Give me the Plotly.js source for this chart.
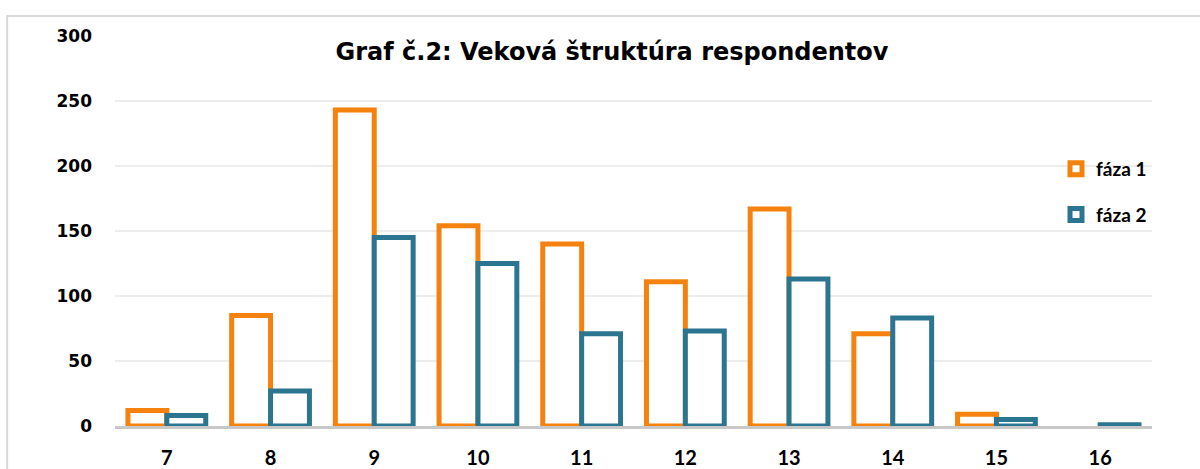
<!DOCTYPE html>
<html><head><meta charset="utf-8">
<script src="https://cdn.plot.ly/plotly-3.0.1.min.js"></script>
<style>html,body{margin:0;padding:0;background:#fff}#chart{width:1200px;height:469px}</style>
</head><body><div id="chart"></div>
<script>
const categories = ['7','8','9','10','11','12','13','14','15','16'];
const faza1 = [12, 85, 243, 154, 140, 111, 167, 71, 9, null];
const faza2 = [8, 27, 145, 125, 71, 73, 113, 83, 5, 1];
const seriesNames = ['fáza 1', 'fáza 2'];
const yTicks = [0, 50, 100, 150, 200, 250, 300];

const orange = '#F5820E';
const teal = '#2C7590';

const traces = [
  {type:'bar', x:categories, y:faza1, name:seriesNames[0], legendgroup:'a',
   marker:{color:'#ffffff', line:{color:orange, width:5}}},
  {type:'bar', x:categories, y:faza2, name:seriesNames[1], legendgroup:'b',
   marker:{color:'#ffffff', line:{color:teal, width:5}}}
];

const layout = {
  width:1200, height:469,
  margin:{l:115, r:48, t:36, b:43},
  paper_bgcolor:'#ffffff', plot_bgcolor:'#ffffff',
  barmode:'group', bargap:0.25, bargroupgap:0,
  title:{text:'Graf č.2: Veková štruktúra respondentov',
    font:{family:'"DejaVu Sans", sans-serif', size:24, color:'#000', weight:'bold'},
    x:0.51, xanchor:'center', y:0.889, yanchor:'middle'},
  xaxis:{type:'category', showgrid:false, zeroline:false,
    showline:true, linecolor:'#C8C8C8', linewidth:3, ticks:'',
    tickfont:{family:'Lato, "Open Sans", sans-serif', size:20, color:'#000', weight:'bold'},
    ticklabelstandoff:12},
  yaxis:{range:[0,300], tickvals:yTicks, ticktext:yTicks.map(String),
    showgrid:true, gridcolor:'#EDEDED', gridwidth:2, zeroline:false, showline:false, ticks:'',
    tickfont:{family:'"DejaVu Sans", sans-serif', size:17, color:'#000', weight:'bold'},
    ticklabelstandoff:22},
  legend:{x:1.0, xanchor:'right', y:0.6, yanchor:'middle',
    traceorder:'grouped',
    font:{family:'Lato, "Open Sans", sans-serif', size:19, color:'#000', weight:'bold'},
    tracegroupgap:18, itemwidth:30, bgcolor:'rgba(0,0,0,0)'},
  shapes:[{type:'rect', xref:'paper', yref:'paper', x0:-0.104, x1:1.2, y0:-0.3, y1:1.051,
    line:{color:'#D9D9D9', width:2}, fillcolor:'rgba(0,0,0,0)', layer:'below'}],
  showlegend:true
};
Plotly.newPlot('chart', traces, layout, {displayModeBar:false, staticPlot:true});
</script></body></html>
